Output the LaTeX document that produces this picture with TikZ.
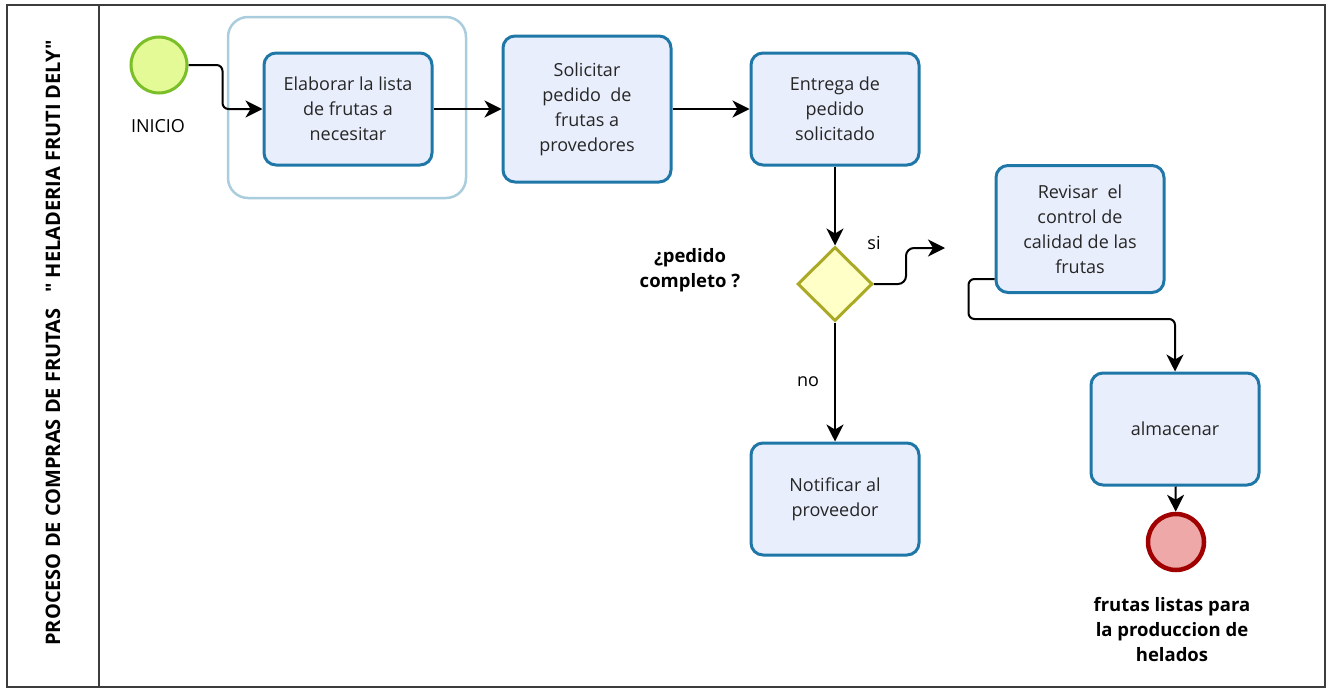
\documentclass[tikz,border=0pt]{standalone}
\usepackage{fontspec}
\setmainfont{Open Sans}[Ligatures=TeXOff]
\usetikzlibrary{arrows.meta,shapes.geometric}

\definecolor{taskline}{RGB}{31,119,168}
\definecolor{taskfill}{RGB}{233,238,252}
\definecolor{groupline}{RGB}{170,205,222}
\definecolor{startline}{RGB}{122,190,40}
\definecolor{startfill}{RGB}{228,250,150}
\definecolor{gateline}{RGB}{170,170,40}
\definecolor{gatefill}{RGB}{255,255,200}
\definecolor{endline}{RGB}{160,0,0}
\definecolor{endfill}{RGB}{238,168,168}
\definecolor{framecol}{RGB}{60,60,60}

\tikzset{
  task/.style={draw=taskline, fill=taskfill, line width=3pt, rounded corners=12pt,
    minimum width=168pt, minimum height=112pt, align=center,
    font=\fontsize{18}{25}\selectfont, text=black!85},
  flow/.style={line width=2pt, -{Stealth[length=17pt,width=17pt,inset=5pt]}},
  lbl/.style={font=\fontsize{18}{25}\selectfont, align=center},
  boldlbl/.style={font=\fontsize{18.5}{25}\selectfont\bfseries, align=center},
}

\begin{document}
\begin{tikzpicture}[x=1pt,y=-1pt]

\useasboundingbox (0,0) rectangle (1331,688);

% pool
\draw[framecol, line width=2pt] (7,5) rectangle (1325,687);
\draw[framecol, line width=2pt] (99,5) -- (99,687);
\node[rotate=90, font=\fontsize{20}{24}\selectfont\bfseries] (titulo) at (53,343)
  {PROCESO DE COMPRAS DE FRUTAS \ \ " HELADERIA FRUTI DELY"};

% group
\draw[groupline, line width=2.5pt, rounded corners=20pt] (228,17) rectangle (466,198);

% events
\node[circle, draw=startline, fill=startfill, line width=3pt, minimum size=56pt] (inicio) at (159,65) {};
\node[lbl] (lblinicio) at (158,126) {INICIO};
\node[circle, draw=endline, fill=endfill, line width=4.5pt, minimum size=56pt] (fin) at (1176,542) {};
\node[boldlbl] (lblfin) at (1172,630) {frutas listas para\\la produccion de\\helados};

% tasks
\foreach \name/\x/\y/\h/\txt in {
  elaborar/348/109/112/{Elaborar la lista\\de frutas a\\necesitar},
  solicitar/587/109/146/{Solicitar\\pedido \ de\\frutas a\\provedores},
  entrega/835/109/112/{Entrega de\\pedido\\solicitado},
  revisar/1080/229/127/{Revisar \ el\\control de\\calidad de las\\frutas},
  almacenar/1175/429/112/{almacenar},
  notificar/835/499/112/{Notificar al\\proveedor}}
    \node[task, minimum height=\h] (\name) at (\x,\y) {\txt};

% gateway
\node[diamond, draw=gateline, fill=gatefill, line width=3pt, minimum width=75pt, minimum height=74pt, inner sep=0pt] (pedido) at (835,284) {};
\node[boldlbl] (lblpedido) at (690,270) {¿pedido\\completo ?};
\node[lbl] (lblsi) at (874,243) {si};
\node[lbl] (lblno) at (808,382) {no};
\coordinate (siend) at (945,248);

% flows
\draw[flow, rounded corners=6pt] (inicio.east) -- ++(34,0) |- (elaborar.west);
\draw[flow] (elaborar) -- (solicitar);
\draw[flow] (solicitar) -- (entrega);
\draw[flow] (entrega) -- (pedido);
\draw[flow] (pedido) -- (notificar);
\draw[flow, rounded corners=8pt] (pedido.east) -- ++(32,0) |- (siend);
\draw[flow, rounded corners=6pt] ([yshift=15pt]revisar.south west) -- ++(-26,0) -- ++(0,40) -| (almacenar.north);
\draw[flow] (almacenar) -- (fin);

\end{tikzpicture}
\end{document}
